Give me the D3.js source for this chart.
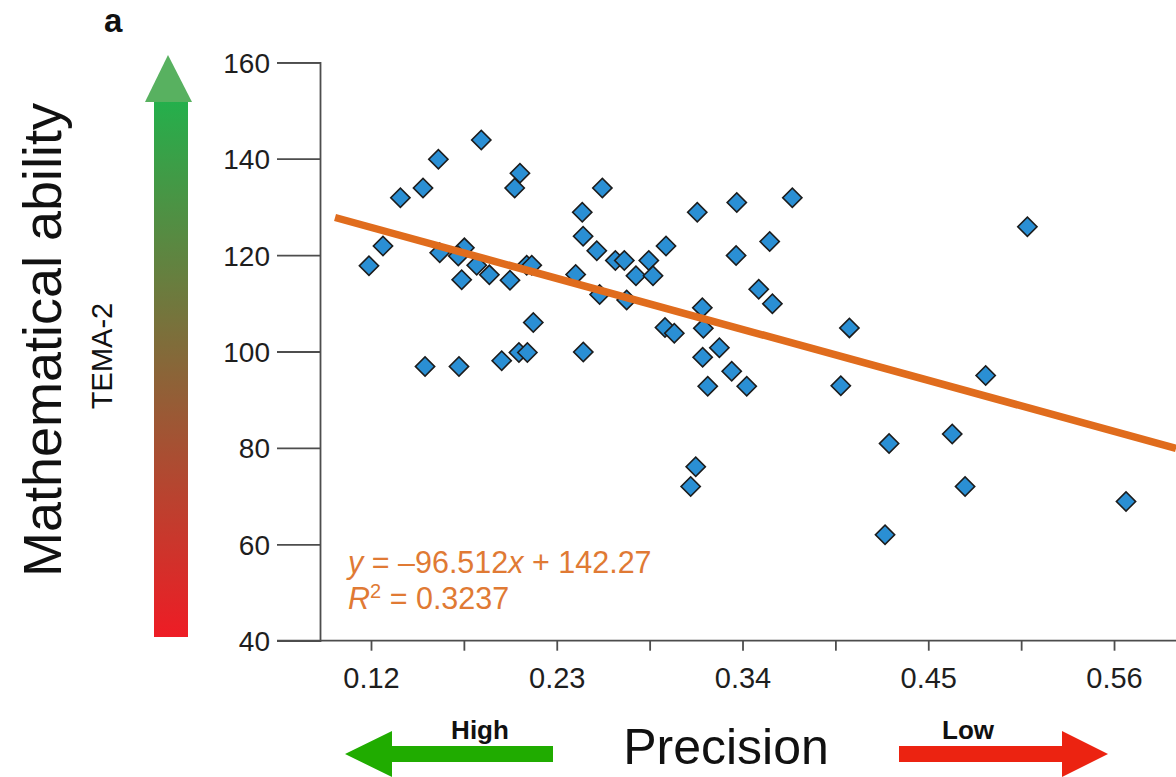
<!DOCTYPE html>
<html>
<head>
<meta charset="utf-8">
<script src="https://cdn.jsdelivr.net/npm/d3@7"></script>
<style>
  html, body { margin: 0; padding: 0; background: #fff; }
  svg { display: block; font-family: "Liberation Sans", Arial, Helvetica, sans-serif; }
</style>
</head>
<body>
<svg id="chart" width="1176" height="777"></svg>
<script>
// ---- data ----
const precision = [
  0.1853, 0.1599, 0.1508, 0.1374, 0.2082, 0.2051, 0.2570, 0.2451, 0.2456, 0.2537,
  0.2647, 0.1271, 0.1188, 0.1607, 0.1753, 0.1717, 0.1826, 0.1901, 0.1737, 0.2023,
  0.2122, 0.2152, 0.2412, 0.2554, 0.2161, 0.1520, 0.1721, 0.1974, 0.2076, 0.2126,
  0.2457, 0.2700, 0.2769, 0.2845, 0.2870, 0.2947, 0.2714, 0.3132, 0.3366, 0.3695,
  0.3561, 0.3362, 0.3496, 0.3577, 0.3162, 0.2941, 0.2996, 0.3168, 0.3263, 0.3164,
  0.3336, 0.3194, 0.3425, 0.3123, 0.3093, 0.5087, 0.4033, 0.4840, 0.3982, 0.4642,
  0.4268, 0.4718, 0.5671, 0.4244
];
const tema2 = [
  143.9, 139.9, 133.9, 131.9, 137.0, 133.9, 133.9, 128.9, 123.9, 120.9,
  118.9, 121.9, 117.8, 120.5, 121.5, 119.8, 117.9, 115.9, 114.9, 114.8,
  117.9, 117.9, 116.0, 111.8, 106.0, 96.9, 96.9, 98.1, 99.8, 99.8,
  99.9, 118.9, 115.7, 118.9, 115.7, 121.9, 110.7, 128.9, 130.9, 131.9,
  122.8, 119.9, 112.9, 109.9, 109.1, 105.0, 103.8, 104.8, 100.8, 98.8,
  95.9, 92.8, 92.8, 76.1, 72.0, 125.9, 104.9, 95.0, 92.9, 82.9,
  80.9, 72.0, 68.9, 62.0
];
// fitted line as drawn in the reference (end points)
const fitX = [0.0987, 0.5967];
const fitY = [127.8, 79.9];

const xTicks = [0.12, 0.175, 0.23, 0.285, 0.34, 0.395, 0.45, 0.505, 0.56];
const xTickLabels = ["0.12", "0.23", "0.34", "0.45", "0.56"];
const yTicks = [40, 60, 80, 100, 120, 140, 160];

const r2Text = "0.3237";

// ---- layout ----
const svg = d3.select("#chart");
const plot = { left: 320, right: 1176, top: 62.3, bottom: 640.7 };

const x = d3.scaleLinear().domain([0.0898, 0.5967]).range([plot.left, plot.right]);
const y = d3.scaleLinear().domain([40, 160]).range([plot.bottom, plot.top]);

const axisColor = "#4d4d4d";
const textColor = "#1e1e1e";
const orange = "#e06c1d";

// ---- y axis ----
const yAxis = svg.append("g")
  .attr("transform", `translate(${plot.left},0)`)
  .call(d3.axisLeft(y).tickValues(yTicks).tickSize(43).tickPadding(7).tickFormat(d3.format("d")));
yAxis.select(".domain").attr("stroke", axisColor).attr("stroke-width", 1.8);
yAxis.selectAll(".tick line").attr("stroke", axisColor).attr("stroke-width", 1.8);
yAxis.selectAll(".tick text")
  .attr("fill", textColor)
  .style("font-size", "28px")
  .style("font-family", "'Liberation Sans', Arial, sans-serif")
  .attr("dy", "0.36em");

// ---- x axis ----
const xAxis = svg.append("g")
  .attr("transform", `translate(0,${plot.bottom})`)
  .call(d3.axisBottom(x).tickValues(xTicks).tickSize(10).tickPadding(17)
    .tickFormat(d => { const s = d3.format(".2f")(d); return xTickLabels.includes(s) ? s : ""; }));
xAxis.select(".domain").remove();
xAxis.selectAll(".tick line").attr("stroke", axisColor).attr("stroke-width", 1.8);
xAxis.selectAll(".tick text")
  .attr("fill", textColor)
  .style("font-size", "29px")
  .style("font-family", "'Liberation Sans', Arial, sans-serif");
// x axis baseline running from the 40 tick to the right edge
svg.append("line")
  .attr("x1", plot.left - 43).attr("x2", plot.right)
  .attr("y1", y(40)).attr("y2", y(40))
  .attr("stroke", axisColor).attr("stroke-width", 1.8);

// ---- points ----
const pts = precision.map((p, i) => ({ x: p, y: tema2[i] }));
const diamond = d3.symbol().type(d3.symbolSquare).size(185);
svg.append("g").selectAll("path")
  .data(pts)
  .join("path")
  .attr("d", diamond)
  .attr("transform", d => `translate(${x(d.x)},${y(d.y)}) rotate(45)`)
  .attr("fill", "#2a8fd4")
  .attr("stroke", "#1c1c1c")
  .attr("stroke-width", 1.6);

// ---- fit line ----
const fitPts = fitX.map((v, i) => [v, fitY[i]]);
svg.append("path")
  .attr("d", d3.line().x(d => x(d[0])).y(d => y(d[1]))(fitPts))
  .attr("stroke", orange)
  .attr("stroke-width", 7.5)
  .attr("fill", "none");

// ---- equation ----
const eq = svg.append("text")
  .attr("x", 348).attr("y", 573)
  .attr("fill", "#e07a34")
  .style("font-size", "30.5px");
eq.append("tspan").style("font-style", "italic").text("y");
eq.append("tspan").text(" = \u201396.512");
eq.append("tspan").style("font-style", "italic").text("x");
eq.append("tspan").text(" + 142.27");

const r2 = svg.append("text")
  .attr("x", 348).attr("y", 609)
  .attr("fill", "#e07a34")
  .style("font-size", "30.5px");
r2.append("tspan").style("font-style", "italic").text("R");
r2.append("tspan").attr("dy", -11).style("font-size", "20px").text("2");
r2.append("tspan").attr("dy", 11).text(" = " + r2Text);

// ---- panel label ----
svg.append("text")
  .attr("x", 104).attr("y", 32)
  .attr("fill", "#111")
  .style("font-size", "33px")
  .style("font-weight", "bold")
  .text("a");

// ---- vertical gradient arrow ----
const defs = svg.append("defs");
const grad = defs.append("linearGradient")
  .attr("id", "vgrad").attr("x1", 0).attr("y1", 0).attr("x2", 0).attr("y2", 1);
grad.append("stop").attr("offset", "0%").attr("stop-color", "#22b14c");
grad.append("stop").attr("offset", "100%").attr("stop-color", "#ee1c25");

svg.append("rect")
  .attr("x", 154).attr("y", 95).attr("width", 34).attr("height", 542)
  .attr("fill", "url(#vgrad)");
svg.append("path")
  .attr("d", "M168,55 L192,102 L145,102 Z")
  .attr("fill", "#58b160");

// ---- y title ----
svg.append("text")
  .attr("transform", "translate(61,340) rotate(-90)")
  .attr("text-anchor", "middle")
  .attr("fill", "#111")
  .style("font-size", "54px")
  .text("Mathematical ability");

svg.append("text")
  .attr("transform", "translate(112,356) rotate(-90)")
  .attr("text-anchor", "middle")
  .attr("fill", "#111")
  .style("font-size", "29px")
  .text("TEMA-2");

// ---- bottom arrows & title ----
svg.append("path")
  .attr("d", "M345,754 L392,731 L392,746 L553,746 L553,762 L392,762 L392,777 Z")
  .attr("fill", "#20ac00");
svg.append("path")
  .attr("d", "M1108,754 L1062,731 L1062,746 L899,746 L899,762 L1062,762 L1062,777 Z")
  .attr("fill", "#ec2311");

svg.append("text")
  .attr("x", 480).attr("y", 739)
  .attr("text-anchor", "middle")
  .attr("fill", "#111")
  .style("font-size", "26px")
  .style("font-weight", "bold")
  .text("High");
svg.append("text")
  .attr("x", 968).attr("y", 739)
  .attr("text-anchor", "middle")
  .attr("fill", "#111")
  .style("font-size", "26px")
  .style("font-weight", "bold")
  .text("Low");

svg.append("text")
  .attr("x", 726).attr("y", 764)
  .attr("text-anchor", "middle")
  .attr("fill", "#111")
  .style("font-size", "50px")
  .text("Precision");
</script>
</body>
</html>
